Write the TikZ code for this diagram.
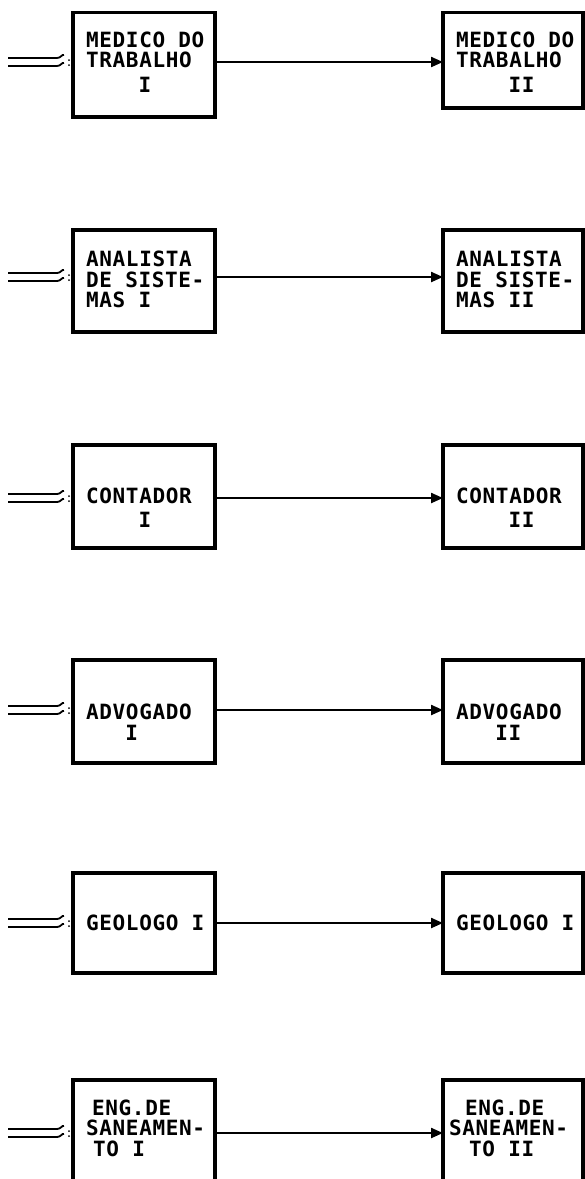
\documentclass[tikz,border=0pt]{standalone}
\usepackage{fontspec}
\newfontfamily\plotfont{DejaVu Sans Mono}[LetterSpace=3]
\usetikzlibrary{arrows.meta,calc}
\begin{document}
\begin{tikzpicture}[x=1pt,y=-1pt,
  box/.style={draw, line width=3.2pt, inner sep=0pt, outer sep=0pt},
  lbl/.style={font=\plotfont\bfseries\fontsize{21}{20.5}\selectfont, align=left, anchor=base west, inner sep=0pt},
  conn/.style={line width=2.2pt, -{Triangle[length=12pt,width=10pt]}},
  inl/.style={line width=1.8pt}]
\useasboundingbox (0,0) rectangle (585,1179);
\clip (0,0) rectangle (585,1179);
\foreach \k/\tp/\bt/\rbt/\ay in {1/12.7/117/108/62, 2/230/332/332/277, 3/445/548/548/498,
  4/660/763/763/710, 5/873/973/973/923, 6/1080/1183/1183/1133}{
  \node[box, minimum width=142pt, minimum height={\bt-\tp}] (L\k) at (144,{(\tp+\bt)/2}) {};
  \node[box, minimum width=140pt, minimum height={\rbt-\tp}] (R\k) at (513,{(\tp+\rbt)/2}) {};
  \coordinate (a\k) at (0,\ay);
  \coordinate (s\k) at (8,\ay);
  \draw[conn] (L\k.east |- a\k) -- (R\k.west |- a\k);
  \draw[inl] ([yshift=4pt]s\k) -- ++(49,0) .. controls +(4,0) and +(-2,-1) .. ++(7,-3);
  \draw[inl] ([yshift=-4pt]s\k) -- ++(49,0) .. controls +(4,0) and +(-2,-1) .. ++(7,-3);
  \fill ([xshift=61pt,yshift=2pt]s\k) circle (1pt);
  \fill ([xshift=61pt,yshift=-3pt]s\k) circle (1pt);
}
% row 1
\node[lbl] (t1l) at (86,92) {MEDICO DO\\TRABALHO\\[4pt]\phantom{XXXX}I};
\node[lbl] (t1r) at (456,92) {MEDICO DO\\TRABALHO\\[4pt]\phantom{XXXX}II};
% row 2
\node[lbl] (t2l) at (86,307.5) {ANALISTA\\DE SISTE-\\MAS I};
\node[lbl] (t2r) at (456,307.5) {ANALISTA\\DE SISTE-\\MAS II};
% row 3
\node[lbl] (t3l) at (86,527) {CONTADOR\\[3pt]\phantom{XXXX}I};
\node[lbl] (t3r) at (456,527) {CONTADOR\\[3pt]\phantom{XXXX}II};
% row 4
\node[lbl] (t4l) at (86,740) {ADVOGADO\\\phantom{XXX}I};
\node[lbl] (t4r) at (456,740) {ADVOGADO\\\phantom{XXX}II};
% row 5
\node[lbl] (t5l) at (86,930) {GEOLOGO I};
\node[lbl] (t5r) at (456,930) {GEOLOGO I};
% row 6
\node[lbl] (t6l) at (86,1156) {\hspace*{6pt}ENG.DE\\SANEAMEN-\\\hspace*{7pt}TO I};
\node[lbl] (t6r) at (449,1156) {\hspace*{16pt}ENG.DE\\SANEAMEN-\\\hspace*{20pt}TO II};
\end{tikzpicture}
\end{document}
